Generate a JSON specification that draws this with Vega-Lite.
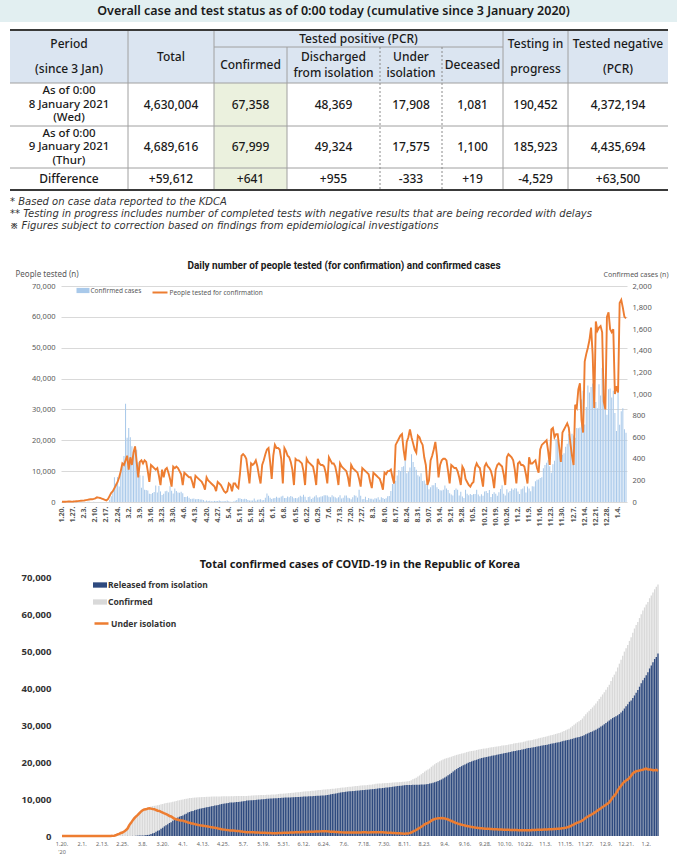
{
"$schema": "https://vega.github.io/schema/vega-lite/v6.json",
"padding": 0,
"background": "white",
"bounds": "flush",
"spacing": 75,
"resolve": {"scale": {"fill": "independent", "stroke": "independent"}, "legend": {"fill": "independent", "stroke": "independent"}},
"config": {"view": {"stroke": null}, "font": "Noto Sans", "axis": {"labelFont": "Noto Sans", "titleFont": "Noto Sans"}, "legend": {"labelFont": "Noto Sans", "padding": 0}, "title": {"font": "Noto Sans"}},
"datasets": {"daily": [
{"d":"2020-01-20","c":1,"t":60,"cc":1,"r":0,"i":1},
{"d":"2020-01-21","c":0,"t":80,"cc":1,"r":0,"i":1},
{"d":"2020-01-22","c":0,"t":100,"cc":1,"r":0,"i":1},
{"d":"2020-01-23","c":0,"t":120,"cc":1,"r":0,"i":1},
{"d":"2020-01-24","c":1,"t":150,"cc":2,"r":0,"i":2},
{"d":"2020-01-25","c":0,"t":150,"cc":2,"r":0,"i":2},
{"d":"2020-01-26","c":1,"t":130,"cc":3,"r":0,"i":3},
{"d":"2020-01-27","c":1,"t":150,"cc":4,"r":0,"i":4},
{"d":"2020-01-28","c":0,"t":200,"cc":4,"r":0,"i":4},
{"d":"2020-01-29","c":0,"t":250,"cc":4,"r":0,"i":4},
{"d":"2020-01-30","c":3,"t":300,"cc":7,"r":0,"i":7},
{"d":"2020-01-31","c":4,"t":350,"cc":11,"r":0,"i":11},
{"d":"2020-02-01","c":1,"t":400,"cc":12,"r":0,"i":12},
{"d":"2020-02-02","c":3,"t":450,"cc":15,"r":0,"i":15},
{"d":"2020-02-03","c":0,"t":500,"cc":15,"r":0,"i":15},
{"d":"2020-02-04","c":1,"t":600,"cc":16,"r":0,"i":16},
{"d":"2020-02-05","c":2,"t":700,"cc":18,"r":1,"i":17},
{"d":"2020-02-06","c":5,"t":800,"cc":23,"r":2,"i":21},
{"d":"2020-02-07","c":1,"t":900,"cc":24,"r":2,"i":22},
{"d":"2020-02-08","c":0,"t":900,"cc":24,"r":2,"i":22},
{"d":"2020-02-09","c":3,"t":1000,"cc":27,"r":3,"i":24},
{"d":"2020-02-10","c":0,"t":1200,"cc":27,"r":3,"i":24},
{"d":"2020-02-11","c":1,"t":1500,"cc":28,"r":4,"i":24},
{"d":"2020-02-12","c":0,"t":1400,"cc":28,"r":7,"i":21},
{"d":"2020-02-13","c":0,"t":1300,"cc":28,"r":7,"i":21},
{"d":"2020-02-14","c":0,"t":1100,"cc":28,"r":7,"i":21},
{"d":"2020-02-15","c":0,"t":900,"cc":28,"r":9,"i":19},
{"d":"2020-02-16","c":1,"t":700,"cc":29,"r":9,"i":20},
{"d":"2020-02-17","c":1,"t":500,"cc":30,"r":10,"i":20},
{"d":"2020-02-18","c":1,"t":1000,"cc":31,"r":12,"i":19},
{"d":"2020-02-19","c":20,"t":2000,"cc":51,"r":16,"i":35},
{"d":"2020-02-20","c":53,"t":3000,"cc":104,"r":16,"i":87},
{"d":"2020-02-21","c":100,"t":3500,"cc":204,"r":16,"i":186},
{"d":"2020-02-22","c":229,"t":4500,"cc":433,"r":18,"i":413},
{"d":"2020-02-23","c":169,"t":5500,"cc":602,"r":18,"i":578},
{"d":"2020-02-24","c":231,"t":6500,"cc":833,"r":22,"i":803},
{"d":"2020-02-25","c":144,"t":8000,"cc":977,"r":22,"i":945},
{"d":"2020-02-26","c":284,"t":10000,"cc":1261,"r":22,"i":1227},
{"d":"2020-02-27","c":334,"t":12500,"cc":1595,"r":22,"i":1560},
{"d":"2020-02-28","c":427,"t":12000,"cc":2022,"r":27,"i":1982},
{"d":"2020-02-29","c":909,"t":13500,"cc":2931,"r":27,"i":2887},
{"d":"2020-03-01","c":595,"t":15000,"cc":3526,"r":30,"i":3479},
{"d":"2020-03-02","c":686,"t":10500,"cc":4212,"r":30,"i":4160},
{"d":"2020-03-03","c":600,"t":14500,"cc":4812,"r":30,"i":4754},
{"d":"2020-03-04","c":516,"t":12000,"cc":5328,"r":41,"i":5255},
{"d":"2020-03-05","c":438,"t":16000,"cc":5766,"r":88,"i":5643},
{"d":"2020-03-06","c":518,"t":18000,"cc":6284,"r":108,"i":6134},
{"d":"2020-03-07","c":483,"t":13000,"cc":6767,"r":118,"i":6605},
{"d":"2020-03-08","c":367,"t":8000,"cc":7134,"r":130,"i":6954},
{"d":"2020-03-09","c":248,"t":13000,"cc":7382,"r":166,"i":7165},
{"d":"2020-03-10","c":131,"t":13500,"cc":7513,"r":247,"i":7212},
{"d":"2020-03-11","c":242,"t":12500,"cc":7755,"r":288,"i":7407},
{"d":"2020-03-12","c":114,"t":13500,"cc":7869,"r":333,"i":7470},
{"d":"2020-03-13","c":110,"t":13000,"cc":7979,"r":510,"i":7402},
{"d":"2020-03-14","c":107,"t":10000,"cc":8086,"r":714,"i":7300},
{"d":"2020-03-15","c":76,"t":6500,"cc":8162,"r":834,"i":7253},
{"d":"2020-03-16","c":74,"t":12000,"cc":8236,"r":1137,"i":7024},
{"d":"2020-03-17","c":84,"t":11500,"cc":8320,"r":1407,"i":6832},
{"d":"2020-03-18","c":93,"t":11000,"cc":8413,"r":1540,"i":6789},
{"d":"2020-03-19","c":152,"t":10500,"cc":8565,"r":1947,"i":6527},
{"d":"2020-03-20","c":87,"t":11000,"cc":8652,"r":2233,"i":6325},
{"d":"2020-03-21","c":147,"t":8500,"cc":8799,"r":2612,"i":6085},
{"d":"2020-03-22","c":98,"t":5500,"cc":8897,"r":2909,"i":5884},
{"d":"2020-03-23","c":64,"t":10500,"cc":8961,"r":3166,"i":5684},
{"d":"2020-03-24","c":76,"t":8000,"cc":9037,"r":3507,"i":5410},
{"d":"2020-03-25","c":100,"t":10500,"cc":9137,"r":3730,"i":5281},
{"d":"2020-03-26","c":104,"t":11000,"cc":9241,"r":4144,"i":4966},
{"d":"2020-03-27","c":91,"t":9500,"cc":9332,"r":4528,"i":4665},
{"d":"2020-03-28","c":146,"t":7500,"cc":9478,"r":4811,"i":4523},
{"d":"2020-03-29","c":105,"t":5000,"cc":9583,"r":5033,"i":4398},
{"d":"2020-03-30","c":78,"t":11500,"cc":9661,"r":5228,"i":4275},
{"d":"2020-03-31","c":125,"t":11000,"cc":9786,"r":5408,"i":4216},
{"d":"2020-04-01","c":101,"t":11500,"cc":9887,"r":5567,"i":4155},
{"d":"2020-04-02","c":89,"t":11000,"cc":9976,"r":5828,"i":3979},
{"d":"2020-04-03","c":86,"t":10000,"cc":10062,"r":6021,"i":3867},
{"d":"2020-04-04","c":94,"t":9000,"cc":10156,"r":6325,"i":3654},
{"d":"2020-04-05","c":81,"t":5500,"cc":10237,"r":6463,"i":3591},
{"d":"2020-04-06","c":47,"t":9500,"cc":10284,"r":6694,"i":3404},
{"d":"2020-04-07","c":47,"t":9000,"cc":10331,"r":6776,"i":3363},
{"d":"2020-04-08","c":53,"t":8500,"cc":10384,"r":6973,"i":3211},
{"d":"2020-04-09","c":39,"t":8000,"cc":10423,"r":7117,"i":3102},
{"d":"2020-04-10","c":27,"t":8000,"cc":10450,"r":7243,"i":2999},
{"d":"2020-04-11","c":30,"t":6500,"cc":10480,"r":7368,"i":2901},
{"d":"2020-04-12","c":32,"t":4500,"cc":10512,"r":7447,"i":2851},
{"d":"2020-04-13","c":25,"t":8500,"cc":10537,"r":7534,"i":2786},
{"d":"2020-04-14","c":27,"t":8000,"cc":10564,"r":7616,"i":2726},
{"d":"2020-04-15","c":27,"t":7500,"cc":10591,"r":7757,"i":2609},
{"d":"2020-04-16","c":22,"t":7000,"cc":10613,"r":7829,"i":2555},
{"d":"2020-04-17","c":22,"t":6500,"cc":10635,"r":7937,"i":2468},
{"d":"2020-04-18","c":18,"t":5500,"cc":10653,"r":8042,"i":2379},
{"d":"2020-04-19","c":8,"t":4000,"cc":10661,"r":8127,"i":2300},
{"d":"2020-04-20","c":13,"t":8000,"cc":10674,"r":8229,"i":2209},
{"d":"2020-04-21","c":9,"t":7000,"cc":10683,"r":8277,"i":2169},
{"d":"2020-04-22","c":11,"t":6500,"cc":10694,"r":8411,"i":2045},
{"d":"2020-04-23","c":8,"t":6000,"cc":10702,"r":8501,"i":1961},
{"d":"2020-04-24","c":6,"t":5500,"cc":10708,"r":8635,"i":1833},
{"d":"2020-04-25","c":10,"t":5000,"cc":10718,"r":8717,"i":1761},
{"d":"2020-04-26","c":10,"t":3500,"cc":10728,"r":8764,"i":1722},
{"d":"2020-04-27","c":10,"t":6500,"cc":10738,"r":8854,"i":1641},
{"d":"2020-04-28","c":14,"t":6000,"cc":10752,"r":8922,"i":1586},
{"d":"2020-04-29","c":9,"t":5500,"cc":10761,"r":9022,"i":1493},
{"d":"2020-04-30","c":4,"t":4500,"cc":10765,"r":9059,"i":1459},
{"d":"2020-05-01","c":9,"t":3500,"cc":10774,"r":9072,"i":1454},
{"d":"2020-05-02","c":6,"t":3000,"cc":10780,"r":9123,"i":1407},
{"d":"2020-05-03","c":13,"t":3500,"cc":10793,"r":9183,"i":1360},
{"d":"2020-05-04","c":8,"t":6000,"cc":10801,"r":9217,"i":1332},
{"d":"2020-05-05","c":3,"t":5500,"cc":10804,"r":9283,"i":1267},
{"d":"2020-05-06","c":2,"t":3500,"cc":10806,"r":9333,"i":1218},
{"d":"2020-05-07","c":4,"t":6000,"cc":10810,"r":9419,"i":1135},
{"d":"2020-05-08","c":12,"t":6000,"cc":10822,"r":9484,"i":1082},
{"d":"2020-05-09","c":18,"t":5000,"cc":10840,"r":9568,"i":1016},
{"d":"2020-05-10","c":34,"t":4500,"cc":10874,"r":9610,"i":1008},
{"d":"2020-05-11","c":35,"t":9000,"cc":10909,"r":9632,"i":1021},
{"d":"2020-05-12","c":27,"t":15000,"cc":10936,"r":9670,"i":1008},
{"d":"2020-05-13","c":26,"t":15500,"cc":10962,"r":9695,"i":1008},
{"d":"2020-05-14","c":29,"t":15000,"cc":10991,"r":9762,"i":969},
{"d":"2020-05-15","c":27,"t":14000,"cc":11018,"r":9821,"i":937},
{"d":"2020-05-16","c":19,"t":10000,"cc":11037,"r":9851,"i":924},
{"d":"2020-05-17","c":13,"t":6000,"cc":11050,"r":9888,"i":900},
{"d":"2020-05-18","c":15,"t":12500,"cc":11065,"r":9904,"i":898},
{"d":"2020-05-19","c":13,"t":12000,"cc":11078,"r":9938,"i":877},
{"d":"2020-05-20","c":32,"t":12500,"cc":11110,"r":9997,"i":850},
{"d":"2020-05-21","c":12,"t":13500,"cc":11122,"r":10038,"i":820},
{"d":"2020-05-22","c":20,"t":11500,"cc":11142,"r":10078,"i":800},
{"d":"2020-05-23","c":23,"t":8500,"cc":11165,"r":10121,"i":780},
{"d":"2020-05-24","c":25,"t":6000,"cc":11190,"r":10154,"i":770},
{"d":"2020-05-25","c":16,"t":12000,"cc":11206,"r":10179,"i":760},
{"d":"2020-05-26","c":19,"t":13500,"cc":11225,"r":10206,"i":750},
{"d":"2020-05-27","c":40,"t":15500,"cc":11265,"r":10226,"i":770},
{"d":"2020-05-28","c":79,"t":17000,"cc":11344,"r":10265,"i":810},
{"d":"2020-05-29","c":58,"t":17500,"cc":11402,"r":10302,"i":830},
{"d":"2020-05-30","c":39,"t":13000,"cc":11441,"r":10331,"i":840},
{"d":"2020-05-31","c":27,"t":7500,"cc":11468,"r":10348,"i":850},
{"d":"2020-06-01","c":35,"t":15000,"cc":11503,"r":10372,"i":860},
{"d":"2020-06-02","c":38,"t":18500,"cc":11541,"r":10389,"i":880},
{"d":"2020-06-03","c":49,"t":17500,"cc":11590,"r":10417,"i":900},
{"d":"2020-06-04","c":39,"t":17500,"cc":11629,"r":10436,"i":920},
{"d":"2020-06-05","c":39,"t":17000,"cc":11668,"r":10455,"i":940},
{"d":"2020-06-06","c":51,"t":14000,"cc":11719,"r":10486,"i":960},
{"d":"2020-06-07","c":57,"t":6000,"cc":11776,"r":10513,"i":990},
{"d":"2020-06-08","c":38,"t":17500,"cc":11814,"r":10541,"i":1000},
{"d":"2020-06-09","c":38,"t":16500,"cc":11852,"r":10558,"i":1020},
{"d":"2020-06-10","c":50,"t":15000,"cc":11902,"r":10586,"i":1040},
{"d":"2020-06-11","c":45,"t":14500,"cc":11947,"r":10611,"i":1060},
{"d":"2020-06-12","c":56,"t":13000,"cc":12003,"r":10646,"i":1080},
{"d":"2020-06-13","c":48,"t":10500,"cc":12051,"r":10674,"i":1100},
{"d":"2020-06-14","c":34,"t":5500,"cc":12085,"r":10698,"i":1110},
{"d":"2020-06-15","c":37,"t":14000,"cc":12122,"r":10725,"i":1120},
{"d":"2020-06-16","c":34,"t":13500,"cc":12156,"r":10748,"i":1130},
{"d":"2020-06-17","c":43,"t":13500,"cc":12199,"r":10770,"i":1150},
{"d":"2020-06-18","c":59,"t":13000,"cc":12258,"r":10809,"i":1170},
{"d":"2020-06-19","c":49,"t":12500,"cc":12307,"r":10837,"i":1190},
{"d":"2020-06-20","c":67,"t":10000,"cc":12374,"r":10874,"i":1220},
{"d":"2020-06-21","c":48,"t":5500,"cc":12422,"r":10902,"i":1240},
{"d":"2020-06-22","c":17,"t":14000,"cc":12439,"r":10909,"i":1250},
{"d":"2020-06-23","c":46,"t":13000,"cc":12485,"r":10934,"i":1270},
{"d":"2020-06-24","c":51,"t":12500,"cc":12536,"r":10965,"i":1290},
{"d":"2020-06-25","c":28,"t":12000,"cc":12564,"r":11002,"i":1280},
{"d":"2020-06-26","c":39,"t":11500,"cc":12603,"r":11071,"i":1250},
{"d":"2020-06-27","c":51,"t":9000,"cc":12654,"r":11162,"i":1210},
{"d":"2020-06-28","c":62,"t":5500,"cc":12716,"r":11264,"i":1170},
{"d":"2020-06-29","c":42,"t":14000,"cc":12758,"r":11326,"i":1150},
{"d":"2020-06-30","c":43,"t":12500,"cc":12801,"r":11399,"i":1120},
{"d":"2020-07-01","c":51,"t":12000,"cc":12852,"r":11480,"i":1090},
{"d":"2020-07-02","c":54,"t":12000,"cc":12906,"r":11564,"i":1060},
{"d":"2020-07-03","c":63,"t":11500,"cc":12969,"r":11657,"i":1030},
{"d":"2020-07-04","c":63,"t":9500,"cc":13032,"r":11749,"i":1000},
{"d":"2020-07-05","c":61,"t":6000,"cc":13093,"r":11830,"i":980},
{"d":"2020-07-06","c":48,"t":14500,"cc":13141,"r":11897,"i":960},
{"d":"2020-07-07","c":44,"t":13500,"cc":13185,"r":11950,"i":950},
{"d":"2020-07-08","c":63,"t":12500,"cc":13248,"r":12013,"i":950},
{"d":"2020-07-09","c":50,"t":12500,"cc":13298,"r":12061,"i":950},
{"d":"2020-07-10","c":45,"t":11500,"cc":13343,"r":12106,"i":950},
{"d":"2020-07-11","c":35,"t":9000,"cc":13378,"r":12140,"i":950},
{"d":"2020-07-12","c":44,"t":5500,"cc":13422,"r":12184,"i":950},
{"d":"2020-07-13","c":62,"t":12500,"cc":13484,"r":12236,"i":960},
{"d":"2020-07-14","c":33,"t":11500,"cc":13517,"r":12268,"i":960},
{"d":"2020-07-15","c":39,"t":11000,"cc":13556,"r":12307,"i":960},
{"d":"2020-07-16","c":61,"t":10500,"cc":13617,"r":12358,"i":970},
{"d":"2020-07-17","c":60,"t":10000,"cc":13677,"r":12408,"i":980},
{"d":"2020-07-18","c":39,"t":8000,"cc":13716,"r":12447,"i":980},
{"d":"2020-07-19","c":34,"t":5000,"cc":13750,"r":12481,"i":980},
{"d":"2020-07-20","c":26,"t":12000,"cc":13776,"r":12513,"i":970},
{"d":"2020-07-21","c":45,"t":11000,"cc":13821,"r":12557,"i":970},
{"d":"2020-07-22","c":63,"t":10500,"cc":13884,"r":12610,"i":980},
{"d":"2020-07-23","c":59,"t":10000,"cc":13943,"r":12659,"i":990},
{"d":"2020-07-24","c":41,"t":9500,"cc":13984,"r":12698,"i":990},
{"d":"2020-07-25","c":113,"t":7500,"cc":14097,"r":12780,"i":1020},
{"d":"2020-07-26","c":58,"t":5000,"cc":14155,"r":12827,"i":1030},
{"d":"2020-07-27","c":25,"t":11000,"cc":14180,"r":12872,"i":1010},
{"d":"2020-07-28","c":28,"t":10500,"cc":14208,"r":12919,"i":990},
{"d":"2020-07-29","c":48,"t":10000,"cc":14256,"r":12966,"i":990},
{"d":"2020-07-30","c":18,"t":9500,"cc":14274,"r":13014,"i":960},
{"d":"2020-07-31","c":36,"t":9000,"cc":14310,"r":13080,"i":930},
{"d":"2020-08-01","c":31,"t":6500,"cc":14341,"r":13140,"i":900},
{"d":"2020-08-02","c":30,"t":4500,"cc":14371,"r":13190,"i":880},
{"d":"2020-08-03","c":23,"t":9500,"cc":14394,"r":13243,"i":850},
{"d":"2020-08-04","c":34,"t":9000,"cc":14428,"r":13307,"i":820},
{"d":"2020-08-05","c":33,"t":8500,"cc":14461,"r":13369,"i":790},
{"d":"2020-08-06","c":43,"t":8000,"cc":14504,"r":13442,"i":760},
{"d":"2020-08-07","c":20,"t":7500,"cc":14524,"r":13492,"i":730},
{"d":"2020-08-08","c":43,"t":6000,"cc":14567,"r":13554,"i":710},
{"d":"2020-08-09","c":36,"t":4000,"cc":14603,"r":13610,"i":690},
{"d":"2020-08-10","c":28,"t":9500,"cc":14631,"r":13677,"i":650},
{"d":"2020-08-11","c":34,"t":9000,"cc":14665,"r":13721,"i":640},
{"d":"2020-08-12","c":54,"t":10000,"cc":14719,"r":13755,"i":660},
{"d":"2020-08-13","c":56,"t":10000,"cc":14775,"r":13780,"i":690},
{"d":"2020-08-14","c":103,"t":10500,"cc":14878,"r":13793,"i":780},
{"d":"2020-08-15","c":166,"t":8000,"cc":15044,"r":13809,"i":930},
{"d":"2020-08-16","c":279,"t":6000,"cc":15323,"r":13818,"i":1200},
{"d":"2020-08-17","c":197,"t":18500,"cc":15520,"r":13825,"i":1390},
{"d":"2020-08-18","c":246,"t":19500,"cc":15766,"r":13840,"i":1620},
{"d":"2020-08-19","c":297,"t":20500,"cc":16063,"r":13847,"i":1910},
{"d":"2020-08-20","c":288,"t":21500,"cc":16351,"r":13864,"i":2180},
{"d":"2020-08-21","c":324,"t":22000,"cc":16675,"r":13888,"i":2480},
{"d":"2020-08-22","c":332,"t":17000,"cc":17007,"r":13908,"i":2790},
{"d":"2020-08-23","c":397,"t":13500,"cc":17404,"r":13925,"i":3170},
{"d":"2020-08-24","c":266,"t":19500,"cc":17670,"r":13981,"i":3380},
{"d":"2020-08-25","c":280,"t":21000,"cc":17950,"r":14070,"i":3570},
{"d":"2020-08-26","c":320,"t":23500,"cc":18270,"r":14158,"i":3800},
{"d":"2020-08-27","c":441,"t":21000,"cc":18711,"r":14248,"i":4150},
{"d":"2020-08-28","c":371,"t":19000,"cc":19082,"r":14369,"i":4400},
{"d":"2020-08-29","c":323,"t":17000,"cc":19405,"r":14509,"i":4580},
{"d":"2020-08-30","c":299,"t":16000,"cc":19704,"r":14683,"i":4700},
{"d":"2020-08-31","c":248,"t":21500,"cc":19952,"r":14848,"i":4780},
{"d":"2020-09-01","c":235,"t":21000,"cc":20187,"r":15043,"i":4820},
{"d":"2020-09-02","c":267,"t":19500,"cc":20454,"r":15278,"i":4850},
{"d":"2020-09-03","c":195,"t":18500,"cc":20649,"r":15520,"i":4800},
{"d":"2020-09-04","c":198,"t":14500,"cc":20847,"r":15796,"i":4720},
{"d":"2020-09-05","c":168,"t":12000,"cc":21015,"r":16082,"i":4600},
{"d":"2020-09-06","c":167,"t":5500,"cc":21182,"r":16398,"i":4450},
{"d":"2020-09-07","c":119,"t":7000,"cc":21301,"r":16715,"i":4250},
{"d":"2020-09-08","c":136,"t":13500,"cc":21437,"r":17046,"i":4050},
{"d":"2020-09-09","c":156,"t":15000,"cc":21593,"r":17399,"i":3850},
{"d":"2020-09-10","c":155,"t":17000,"cc":21748,"r":17752,"i":3650},
{"d":"2020-09-11","c":176,"t":19500,"cc":21924,"r":18094,"i":3480},
{"d":"2020-09-12","c":136,"t":15000,"cc":22060,"r":18385,"i":3320},
{"d":"2020-09-13","c":121,"t":8000,"cc":22181,"r":18643,"i":3180},
{"d":"2020-09-14","c":109,"t":12000,"cc":22290,"r":18882,"i":3050},
{"d":"2020-09-15","c":106,"t":13500,"cc":22396,"r":19099,"i":2930},
{"d":"2020-09-16","c":113,"t":14000,"cc":22509,"r":19322,"i":2820},
{"d":"2020-09-17","c":153,"t":14000,"cc":22662,"r":19570,"i":2720},
{"d":"2020-09-18","c":126,"t":13500,"cc":22788,"r":19791,"i":2620},
{"d":"2020-09-19","c":110,"t":10000,"cc":22898,"r":19991,"i":2530},
{"d":"2020-09-20","c":82,"t":6000,"cc":22980,"r":20159,"i":2440},
{"d":"2020-09-21","c":70,"t":12000,"cc":23050,"r":20306,"i":2360},
{"d":"2020-09-22","c":61,"t":11500,"cc":23111,"r":20443,"i":2280},
{"d":"2020-09-23","c":110,"t":11000,"cc":23221,"r":20608,"i":2220},
{"d":"2020-09-24","c":125,"t":11000,"cc":23346,"r":20781,"i":2170},
{"d":"2020-09-25","c":114,"t":10000,"cc":23460,"r":20945,"i":2120},
{"d":"2020-09-26","c":61,"t":8000,"cc":23521,"r":21054,"i":2070},
{"d":"2020-09-27","c":95,"t":5500,"cc":23616,"r":21185,"i":2030},
{"d":"2020-09-28","c":50,"t":11500,"cc":23666,"r":21275,"i":1990},
{"d":"2020-09-29","c":38,"t":10500,"cc":23704,"r":21348,"i":1950},
{"d":"2020-09-30","c":113,"t":7500,"cc":23817,"r":21480,"i":1930},
{"d":"2020-10-01","c":77,"t":6500,"cc":23894,"r":21581,"i":1900},
{"d":"2020-10-02","c":63,"t":5500,"cc":23957,"r":21672,"i":1870},
{"d":"2020-10-03","c":75,"t":5000,"cc":24032,"r":21762,"i":1850},
{"d":"2020-10-04","c":64,"t":6000,"cc":24096,"r":21856,"i":1820},
{"d":"2020-10-05","c":73,"t":6500,"cc":24169,"r":21948,"i":1800},
{"d":"2020-10-06","c":75,"t":11000,"cc":24244,"r":22039,"i":1780},
{"d":"2020-10-07","c":114,"t":12500,"cc":24358,"r":22172,"i":1760},
{"d":"2020-10-08","c":69,"t":11500,"cc":24427,"r":22260,"i":1740},
{"d":"2020-10-09","c":54,"t":11000,"cc":24481,"r":22332,"i":1720},
{"d":"2020-10-10","c":72,"t":8000,"cc":24553,"r":22421,"i":1700},
{"d":"2020-10-11","c":58,"t":5000,"cc":24611,"r":22499,"i":1680},
{"d":"2020-10-12","c":97,"t":11500,"cc":24708,"r":22615,"i":1660},
{"d":"2020-10-13","c":102,"t":12500,"cc":24810,"r":22726,"i":1650},
{"d":"2020-10-14","c":84,"t":11500,"cc":24894,"r":22819,"i":1640},
{"d":"2020-10-15","c":110,"t":11000,"cc":25004,"r":22935,"i":1630},
{"d":"2020-10-16","c":47,"t":10000,"cc":25051,"r":23000,"i":1610},
{"d":"2020-10-17","c":73,"t":8000,"cc":25124,"r":23093,"i":1590},
{"d":"2020-10-18","c":91,"t":4500,"cc":25215,"r":23191,"i":1580},
{"d":"2020-10-19","c":76,"t":10500,"cc":25291,"r":23277,"i":1570},
{"d":"2020-10-20","c":58,"t":12000,"cc":25349,"r":23345,"i":1560},
{"d":"2020-10-21","c":91,"t":12500,"cc":25440,"r":23443,"i":1550},
{"d":"2020-10-22","c":121,"t":12000,"cc":25561,"r":23561,"i":1550},
{"d":"2020-10-23","c":155,"t":11500,"cc":25716,"r":23703,"i":1560},
{"d":"2020-10-24","c":77,"t":9000,"cc":25793,"r":23768,"i":1570},
{"d":"2020-10-25","c":61,"t":5500,"cc":25854,"r":23819,"i":1580},
{"d":"2020-10-26","c":119,"t":14500,"cc":25973,"r":23916,"i":1600},
{"d":"2020-10-27","c":88,"t":15500,"cc":26061,"r":23983,"i":1620},
{"d":"2020-10-28","c":103,"t":15000,"cc":26164,"r":24064,"i":1640},
{"d":"2020-10-29","c":125,"t":14500,"cc":26289,"r":24168,"i":1660},
{"d":"2020-10-30","c":114,"t":13500,"cc":26403,"r":24260,"i":1680},
{"d":"2020-10-31","c":127,"t":10500,"cc":26530,"r":24366,"i":1700},
{"d":"2020-11-01","c":124,"t":6000,"cc":26654,"r":24468,"i":1720},
{"d":"2020-11-02","c":97,"t":12500,"cc":26751,"r":24543,"i":1740},
{"d":"2020-11-03","c":75,"t":13000,"cc":26826,"r":24594,"i":1760},
{"d":"2020-11-04","c":118,"t":12000,"cc":26944,"r":24690,"i":1780},
{"d":"2020-11-05","c":125,"t":12000,"cc":27069,"r":24794,"i":1800},
{"d":"2020-11-06","c":145,"t":11500,"cc":27214,"r":24908,"i":1830},
{"d":"2020-11-07","c":89,"t":9000,"cc":27303,"r":24976,"i":1850},
{"d":"2020-11-08","c":143,"t":6000,"cc":27446,"r":25088,"i":1880},
{"d":"2020-11-09","c":126,"t":14500,"cc":27572,"r":25184,"i":1910},
{"d":"2020-11-10","c":100,"t":12500,"cc":27672,"r":25252,"i":1940},
{"d":"2020-11-11","c":146,"t":12500,"cc":27818,"r":25355,"i":1980},
{"d":"2020-11-12","c":143,"t":13000,"cc":27961,"r":25457,"i":2020},
{"d":"2020-11-13","c":191,"t":13500,"cc":28152,"r":25585,"i":2080},
{"d":"2020-11-14","c":205,"t":11000,"cc":28357,"r":25719,"i":2150},
{"d":"2020-11-15","c":208,"t":9500,"cc":28565,"r":25824,"i":2250},
{"d":"2020-11-16","c":223,"t":17000,"cc":28788,"r":25925,"i":2370},
{"d":"2020-11-17","c":230,"t":18500,"cc":29018,"r":26024,"i":2500},
{"d":"2020-11-18","c":313,"t":19000,"cc":29331,"r":26135,"i":2700},
{"d":"2020-11-19","c":343,"t":19500,"cc":29674,"r":26256,"i":2920},
{"d":"2020-11-20","c":363,"t":20000,"cc":30037,"r":26387,"i":3150},
{"d":"2020-11-21","c":386,"t":16500,"cc":30423,"r":26522,"i":3400},
{"d":"2020-11-22","c":330,"t":12000,"cc":30753,"r":26650,"i":3600},
{"d":"2020-11-23","c":271,"t":23500,"cc":31024,"r":26749,"i":3770},
{"d":"2020-11-24","c":349,"t":24000,"cc":31373,"r":26884,"i":3980},
{"d":"2020-11-25","c":382,"t":21000,"cc":31755,"r":27045,"i":4200},
{"d":"2020-11-26","c":583,"t":22000,"cc":32338,"r":27263,"i":4560},
{"d":"2020-11-27","c":569,"t":22000,"cc":32907,"r":27492,"i":4900},
{"d":"2020-11-28","c":504,"t":17500,"cc":33411,"r":27695,"i":5200},
{"d":"2020-11-29","c":450,"t":13000,"cc":33861,"r":27889,"i":5450},
{"d":"2020-11-30","c":438,"t":22500,"cc":34299,"r":28076,"i":5700},
{"d":"2020-12-01","c":451,"t":23500,"cc":34750,"r":28274,"i":5950},
{"d":"2020-12-02","c":511,"t":24500,"cc":35261,"r":28482,"i":6250},
{"d":"2020-12-03","c":540,"t":25500,"cc":35801,"r":28718,"i":6550},
{"d":"2020-12-04","c":629,"t":24000,"cc":36430,"r":28994,"i":6900},
{"d":"2020-12-05","c":583,"t":19000,"cc":37013,"r":29273,"i":7200},
{"d":"2020-12-06","c":631,"t":15000,"cc":37644,"r":29599,"i":7500},
{"d":"2020-12-07","c":615,"t":12000,"cc":38259,"r":29860,"i":7850},
{"d":"2020-12-08","c":594,"t":31500,"cc":38853,"r":30201,"i":8100},
{"d":"2020-12-09","c":686,"t":30500,"cc":39539,"r":30533,"i":8450},
{"d":"2020-12-10","c":682,"t":36500,"cc":40221,"r":30907,"i":8750},
{"d":"2020-12-11","c":689,"t":38500,"cc":40910,"r":31238,"i":9100},
{"d":"2020-12-12","c":950,"t":26500,"cc":41860,"r":31580,"i":9700},
{"d":"2020-12-13","c":1030,"t":22500,"cc":42890,"r":31903,"i":10400},
{"d":"2020-12-14","c":718,"t":45500,"cc":43608,"r":32115,"i":10900},
{"d":"2020-12-15","c":880,"t":48000,"cc":44488,"r":32388,"i":11500},
{"d":"2020-12-16","c":1078,"t":50000,"cc":45566,"r":32654,"i":12300},
{"d":"2020-12-17","c":1014,"t":52500,"cc":46580,"r":32946,"i":13000},
{"d":"2020-12-18","c":1064,"t":56500,"cc":47644,"r":33385,"i":13600},
{"d":"2020-12-19","c":1097,"t":48000,"cc":48741,"r":33867,"i":14200},
{"d":"2020-12-20","c":1097,"t":30500,"cc":49838,"r":34452,"i":14700},
{"d":"2020-12-21","c":926,"t":58500,"cc":50764,"r":35066,"i":15000},
{"d":"2020-12-22","c":869,"t":55500,"cc":51633,"r":35611,"i":15300},
{"d":"2020-12-23","c":1090,"t":56500,"cc":52723,"r":36284,"i":15700},
{"d":"2020-12-24","c":985,"t":57000,"cc":53708,"r":36652,"i":16300},
{"d":"2020-12-25","c":1241,"t":55000,"cc":54949,"r":37276,"i":16900},
{"d":"2020-12-26","c":1132,"t":32500,"cc":56081,"r":37988,"i":17300},
{"d":"2020-12-27","c":970,"t":30000,"cc":57051,"r":38743,"i":17500},
{"d":"2020-12-28","c":808,"t":60000,"cc":57859,"r":39440,"i":17600},
{"d":"2020-12-29","c":1045,"t":61500,"cc":58904,"r":40345,"i":17700},
{"d":"2020-12-30","c":1050,"t":56000,"cc":59954,"r":41275,"i":17800},
{"d":"2020-12-31","c":967,"t":55000,"cc":60921,"r":42121,"i":17900},
{"d":"2021-01-01","c":1029,"t":56000,"cc":61769,"r":42752,"i":18100},
{"d":"2021-01-02","c":824,"t":35000,"cc":62593,"r":43451,"i":18200},
{"d":"2021-01-03","c":657,"t":37500,"cc":63244,"r":44282,"i":18000},
{"d":"2021-01-04","c":1020,"t":35500,"cc":64264,"r":45283,"i":18000},
{"d":"2021-01-05","c":715,"t":64500,"cc":64979,"r":46072,"i":17900},
{"d":"2021-01-06","c":840,"t":65500,"cc":65818,"r":46991,"i":17800},
{"d":"2021-01-07","c":869,"t":63000,"cc":66684,"r":47838,"i":17800},
{"d":"2021-01-08","c":674,"t":60000,"cc":67358,"r":48369,"i":17908},
{"d":"2021-01-09","c":641,"t":59500,"cc":67999,"r":49324,"i":17575}
]},
"vconcat": [
{
 "width": 616, "height": 211,
 "layer": [
  {
   "data": {"values": [
     {"part":"band","x0":-1,"x1":18,"y0":0,"y1":2},
     {"part":"header","x0":0,"x1":17,"y0":3,"y1":8},
     {"part":"confirmed","x0":4,"x1":6,"y0":8,"y1":14}
   ]},
   "mark": {"type": "rect"},
   "encoding": {
     "x": {"field":"x0","type":"quantitative","axis":null,"scale":{"domain":[-1,0,1,2,3,4,5,6,7,8,9,10,11,12,13,14,15,16,17,18],"range":[-61,-51,8,67,110,153,189.5,226,272.5,297.5,319,350,381,411.5,442,474.5,507,557,607,616],"zero":false,"nice":false}},
     "x2": {"field":"x1"},
     "y": {"field":"y0","type":"quantitative","axis":null,"scale":{"domain":[0,1,2,3,4,5,6,7,8,9,10,11,12,13,14,15,16,17,18],"range":[0,11,22,30,38.5,47,56.5,65,83,104.5,126,147,168,179,190,202,214,226,236],"zero":false,"nice":false}},
     "y2": {"field":"y1"},
     "color": {"field":"part","type":"nominal","legend":null,"scale":{"domain":["band","header","confirmed"],"range":["#e2eff1","#dbe5f1","#ebf1de"]}}
   }
  },
  {
   "data": {"name": "tablelines", "values": [
     {"kind":"inner","x0":4,"x1":13,"y0":5,"y1":5},
     {"kind":"inner","x0":0,"x1":17,"y0":8,"y1":8},
     {"kind":"inner","x0":0,"x1":17,"y0":10,"y1":10},
     {"kind":"inner","x0":0,"x1":17,"y0":12,"y1":12},
     {"kind":"inner","x0":2,"x1":2,"y0":3,"y1":14},
     {"kind":"inner","x0":4,"x1":4,"y0":3,"y1":14},
     {"kind":"inner","x0":13,"x1":13,"y0":3,"y1":14},
     {"kind":"inner","x0":15,"x1":15,"y0":3,"y1":14},
     {"kind":"inner","x0":6,"x1":6,"y0":5,"y1":14},
     {"kind":"dotted","x0":9,"x1":9,"y0":5,"y1":14},
     {"kind":"dotted","x0":11,"x1":11,"y0":5,"y1":14},
     {"kind":"border","x0":0,"x1":17,"y0":3,"y1":3},
     {"kind":"border","x0":0,"x1":17,"y0":14,"y1":14}
   ]},
   "transform": [{"filter": "datum.kind == 'inner'"}],
   "mark": {"type": "rule", "color": "#a0a0a0", "strokeWidth": 1},
   "encoding": {"x": {"field":"x0","type":"quantitative"}, "x2": {"field":"x1"}, "y": {"field":"y0","type":"quantitative"}, "y2": {"field":"y1"}}
  },
  {
   "data": {"name": "tablelines"},
   "transform": [{"filter": "datum.kind == 'dotted'"}],
   "mark": {"type": "rule", "color": "#8a8a8a", "strokeWidth": 1, "strokeDash": [2, 2]},
   "encoding": {"x": {"field":"x0","type":"quantitative"}, "x2": {"field":"x1"}, "y": {"field":"y0","type":"quantitative"}, "y2": {"field":"y1"}}
  },
  {
   "data": {"name": "tablelines"},
   "transform": [{"filter": "datum.kind == 'border'"}],
   "mark": {"type": "rule", "color": "#3a3a3a", "strokeWidth": 2},
   "encoding": {"x": {"field":"x0","type":"quantitative"}, "x2": {"field":"x1"}, "y": {"field":"y0","type":"quantitative"}, "y2": {"field":"y1"}}
  },
  {
   "data": {"name": "tabletext", "values": [
     {"part":"title","x":7,"y":1,"t":"Overall case and test status as of 0:00 today (cumulative since 3 January 2020)"},
     {"part":"head2","x":1,"y":6,"t":["Period","(since 3 Jan)"]},
     {"part":"head","x":3,"y":6,"t":"Total"},
     {"part":"head","x":8,"y":4,"t":"Tested positive (PCR)"},
     {"part":"head","x":5,"y":7,"t":"Confirmed"},
     {"part":"sub","x":7,"y":7,"t":["Discharged","from isolation"]},
     {"part":"sub","x":10,"y":7,"t":["Under","isolation"]},
     {"part":"head","x":12,"y":7,"t":"Deceased"},
     {"part":"head2","x":14,"y":6,"t":["Testing in","progress"]},
     {"part":"head2","x":16,"y":6,"t":["Tested negative","(PCR)"]},
     {"part":"label","x":1,"y":9,"t":["As of 0:00","8 January 2021","(Wed)"]},
     {"part":"cell","x":3,"y":9,"t":"4,630,004"},
     {"part":"cell","x":5,"y":9,"t":"67,358"},
     {"part":"cell","x":7,"y":9,"t":"48,369"},
     {"part":"cell","x":10,"y":9,"t":"17,908"},
     {"part":"cell","x":12,"y":9,"t":"1,081"},
     {"part":"cell","x":14,"y":9,"t":"190,452"},
     {"part":"cell","x":16,"y":9,"t":"4,372,194"},
     {"part":"label","x":1,"y":11,"t":["As of 0:00","9 January 2021","(Thur)"]},
     {"part":"cell","x":3,"y":11,"t":"4,689,616"},
     {"part":"cell","x":5,"y":11,"t":"67,999"},
     {"part":"cell","x":7,"y":11,"t":"49,324"},
     {"part":"cell","x":10,"y":11,"t":"17,575"},
     {"part":"cell","x":12,"y":11,"t":"1,100"},
     {"part":"cell","x":14,"y":11,"t":"185,923"},
     {"part":"cell","x":16,"y":11,"t":"4,435,694"},
     {"part":"cell","x":1,"y":13,"t":"Difference"},
     {"part":"cell","x":3,"y":13,"t":"+59,612"},
     {"part":"cell","x":5,"y":13,"t":"+641"},
     {"part":"cell","x":7,"y":13,"t":"+955"},
     {"part":"cell","x":10,"y":13,"t":"-333"},
     {"part":"cell","x":12,"y":13,"t":"+19"},
     {"part":"cell","x":14,"y":13,"t":"-4,529"},
     {"part":"cell","x":16,"y":13,"t":"+63,500"},
     {"part":"note","x":0,"y":15,"t":"\u00a0\u00a0* Based on case data reported to the KDCA"},
     {"part":"note","x":0,"y":16,"t":"** Testing in progress includes number of completed tests with negative results that are being recorded with delays"},
     {"part":"note","x":0,"y":17,"t":"\u00a0※ Figures subject to correction based on findings from epidemiological investigations"}
   ]},
   "transform": [{"filter": "datum.part == 'title'"}],
   "mark": {"type": "text", "fontSize": 12.5, "fontWeight": 600, "color": "#1a1a1a", "baseline": "middle"},
   "encoding": {"x": {"field":"x","type":"quantitative"}, "y": {"field":"y","type":"quantitative"}, "text": {"field":"t"}}
  },
  {
   "data": {"name": "tabletext"},
   "transform": [{"filter": "datum.part == 'head' || datum.part == 'cell'"}],
   "mark": {"type": "text", "fontSize": 12, "fontWeight": 500, "color": "#1a1a1a", "baseline": "middle"},
   "encoding": {"x": {"field":"x","type":"quantitative"}, "y": {"field":"y","type":"quantitative"}, "text": {"field":"t"}}
  },
  {
   "data": {"name": "tabletext"},
   "transform": [{"filter": "datum.part == 'head2'"}],
   "mark": {"type": "text", "fontSize": 12, "fontWeight": 500, "color": "#1a1a1a", "baseline": "middle", "lineHeight": 25, "dy": -12.5},
   "encoding": {"x": {"field":"x","type":"quantitative"}, "y": {"field":"y","type":"quantitative"}, "text": {"field":"t"}}
  },
  {
   "data": {"name": "tabletext"},
   "transform": [{"filter": "datum.part == 'sub'"}],
   "mark": {"type": "text", "fontSize": 12, "fontWeight": 500, "color": "#1a1a1a", "baseline": "middle", "lineHeight": 16, "dy": -8},
   "encoding": {"x": {"field":"x","type":"quantitative"}, "y": {"field":"y","type":"quantitative"}, "text": {"field":"t"}}
  },
  {
   "data": {"name": "tabletext"},
   "transform": [{"filter": "datum.part == 'label'"}],
   "mark": {"type": "text", "fontSize": 11.5, "fontWeight": 500, "color": "#1a1a1a", "baseline": "middle", "lineHeight": 13.5, "dy": -13.5},
   "encoding": {"x": {"field":"x","type":"quantitative"}, "y": {"field":"y","type":"quantitative"}, "text": {"field":"t"}}
  },
  {
   "data": {"name": "tabletext"},
   "transform": [{"filter": "datum.part == 'note'"}],
   "mark": {"type": "text", "font": "DejaVu Sans", "fontSize": 10, "fontStyle": "italic", "color": "#333333", "baseline": "middle", "align": "left"},
   "encoding": {"x": {"field":"x","type":"quantitative"}, "y": {"field":"y","type":"quantitative"}, "text": {"field":"t"}}
  }
 ]
},
{
 "width": 566, "height": 216,
 "data": {"name": "daily"},
 "title": {"text": "Daily number of people tested (for confirmation) and confirmed cases", "fontSize": 10, "font": "Roboto", "fontWeight": "bold", "color": "#1a1a1a", "offset": -1},
 "encoding": {
   "x": {"field": "d", "type": "ordinal", "scale": {"paddingInner": 0.35, "paddingOuter": 0.3}, "title": null,
     "axis": {"values": ["2020-01-20","2020-01-27","2020-02-03","2020-02-10","2020-02-17","2020-02-24","2020-03-02","2020-03-09","2020-03-16","2020-03-23","2020-03-30","2020-04-06","2020-04-13","2020-04-20","2020-04-27","2020-05-04","2020-05-11","2020-05-18","2020-05-25","2020-06-01","2020-06-08","2020-06-15","2020-06-22","2020-06-29","2020-07-06","2020-07-13","2020-07-20","2020-07-27","2020-08-03","2020-08-10","2020-08-17","2020-08-24","2020-08-31","2020-09-07","2020-09-14","2020-09-21","2020-09-28","2020-10-05","2020-10-12","2020-10-19","2020-10-26","2020-11-02","2020-11-09","2020-11-16","2020-11-23","2020-11-30","2020-12-07","2020-12-14","2020-12-21","2020-12-28","2021-01-04"],
       "labelExpr": "datum.value == '2020-09-07' ? '9.07.' : utcFormat(toDate(datum.value), '%-m.%-d.')",
       "labelAngle": 270, "labelFontSize": 7, "labelFontWeight": "bold", "labelColor": "#595959", "ticks": false, "domain": false, "labelPadding": 4, "labelOverlap": false, "grid": false}}
 },
 "layer": [
   {
     "mark": {"type": "bar"},
     "encoding": {
       "y": {"field": "c", "type": "quantitative", "scale": {"domain": [0, 2000]}, "title": "Confirmed cases (n)",
         "axis": {"orient": "right", "values": [0,200,400,600,800,1000,1200,1400,1600,1800,2000], "format": ",.0f", "grid": false, "ticks": false, "domain": false, "labelFontSize": 7.5, "labelColor": "#595959", "labelPadding": 5,
           "titleAngle": 0, "titleAlign": "right", "titleBaseline": "middle", "titleX": 41, "titleY": -12, "titleFontSize": 7, "titleFontWeight": "normal", "titleColor": "#595959"}},
       "fill": {"datum": "Confirmed cases", "type": "nominal", "scale": {"range": ["#a9c9ea"]},
         "legend": {"orient": "none", "legendX": 15.5, "legendY": -2, "title": null, "symbolType": "M-1,-0.4H1V0.4H-1Z", "symbolSize": 169, "symbolStrokeWidth": 0, "labelFontSize": 6.5, "labelColor": "#595959", "labelOffset": 1}}
     }
   },
   {
     "mark": {"type": "line", "strokeWidth": 1.9},
     "encoding": {
       "y": {"field": "t", "type": "quantitative", "scale": {"domain": [0, 70000]}, "title": "People tested (n)",
         "axis": {"orient": "left", "values": [0,10000,20000,30000,40000,50000,60000,70000], "format": ",.0f", "grid": true, "gridColor": "#d9d9d9", "ticks": false, "domain": false, "labelFontSize": 7.5, "labelColor": "#595959", "labelPadding": 6,
           "titleAngle": 0, "titleAlign": "left", "titleBaseline": "middle", "titleX": -46, "titleY": -12, "titleFontSize": 8, "titleFontWeight": "normal", "titleColor": "#595959"}},
       "stroke": {"datum": "People tested for confirmation", "type": "nominal", "scale": {"range": ["#ed7d31"]},
         "legend": {"orient": "none", "legendX": 90.5, "legendY": -2, "title": null, "symbolType": "stroke", "symbolSize": 225, "symbolStrokeWidth": 2, "labelFontSize": 6.5, "labelColor": "#595959", "labelOffset": 1}}
     }
   }
 ],
 "resolve": {"scale": {"y": "independent"}}
},
{
 "width": 598, "height": 259,
 "data": {"name": "daily"},
 "title": {"text": "Total confirmed cases of COVID-19 in the Republic of Korea", "fontSize": 11, "fontWeight": "bold", "color": "#1a1a1a", "offset": 2},
 "encoding": {
   "x": {"field": "d", "type": "ordinal", "scale": {"paddingInner": 0.2, "paddingOuter": 0.2}, "title": null,
     "axis": {"values": ["2020-01-20","2020-02-01","2020-02-13","2020-02-25","2020-03-08","2020-03-20","2020-04-01","2020-04-13","2020-04-25","2020-05-07","2020-05-19","2020-05-31","2020-06-12","2020-06-24","2020-07-06","2020-07-18","2020-07-30","2020-08-11","2020-08-23","2020-09-04","2020-09-16","2020-09-28","2020-10-10","2020-10-22","2020-11-03","2020-11-15","2020-11-27","2020-12-09","2020-12-21","2021-01-02"],
       "labelExpr": "datum.value == '2020-01-20' ? ['1.20.', \"'20\"] : utcFormat(toDate(datum.value), '%-m.%-d.')",
       "labelAngle": 0, "labelFontSize": 5.5, "labelColor": "#666666", "ticks": false, "domain": false, "labelPadding": 5, "labelOverlap": false, "grid": false, "labelLineHeight": 8}}
 },
 "layer": [
   {
     "mark": {"type": "bar"},
     "encoding": {
       "y": {"field": "cc", "type": "quantitative", "scale": {"domain": [0, 70000]}, "title": null,
         "axis": {"values": [0,10000,20000,30000,40000,50000,60000,70000], "format": ",.0f", "grid": false, "ticks": false, "domain": false, "labelFontSize": 9.5, "labelFontWeight": "bold", "labelColor": "#333333", "labelPadding": 10, "labelOverlap": false}},
       "fill": {"datum": "Confirmed", "type": "nominal", "scale": {"domain": ["Released from isolation", "Confirmed"], "range": ["#2e4a7f", "#d9d9d9"]},
         "legend": {"orient": "none", "legendX": 32, "legendY": 1, "title": null, "direction": "vertical", "symbolType": "M-1,-0.38H1V0.38H-1Z", "symbolSize": 196, "symbolStrokeWidth": 0, "labelFontSize": 8.5, "labelFontWeight": "bold", "labelColor": "#333333", "labelOffset": 1, "rowPadding": 5}}
     }
   },
   {
     "mark": {"type": "bar"},
     "encoding": {
       "y": {"field": "r", "type": "quantitative", "title": null,
         "axis": {"values": [0,10000,20000,30000,40000,50000,60000,70000], "format": ",.0f", "grid": false, "ticks": false, "domain": false, "labelFontSize": 9.5, "labelFontWeight": "bold", "labelColor": "#333333", "labelPadding": 10, "labelOverlap": false}},
       "fill": {"datum": "Released from isolation", "type": "nominal"}
     }
   },
   {
     "mark": {"type": "line", "strokeWidth": 2.5},
     "encoding": {
       "y": {"field": "i", "type": "quantitative", "title": null,
         "axis": {"values": [0,10000,20000,30000,40000,50000,60000,70000], "format": ",.0f", "grid": false, "ticks": false, "domain": false, "labelFontSize": 9.5, "labelFontWeight": "bold", "labelColor": "#333333", "labelPadding": 10, "labelOverlap": false}},
       "stroke": {"datum": "Under isolation", "type": "nominal", "scale": {"range": ["#ed7d31"]},
         "legend": {"orient": "none", "legendX": 32, "legendY": 38, "title": null, "symbolType": "stroke", "symbolSize": 196, "symbolStrokeWidth": 2.5, "labelFontSize": 8.5, "labelFontWeight": "bold", "labelColor": "#333333", "labelOffset": 1}}
     }
   }
 ]
}
]
}
